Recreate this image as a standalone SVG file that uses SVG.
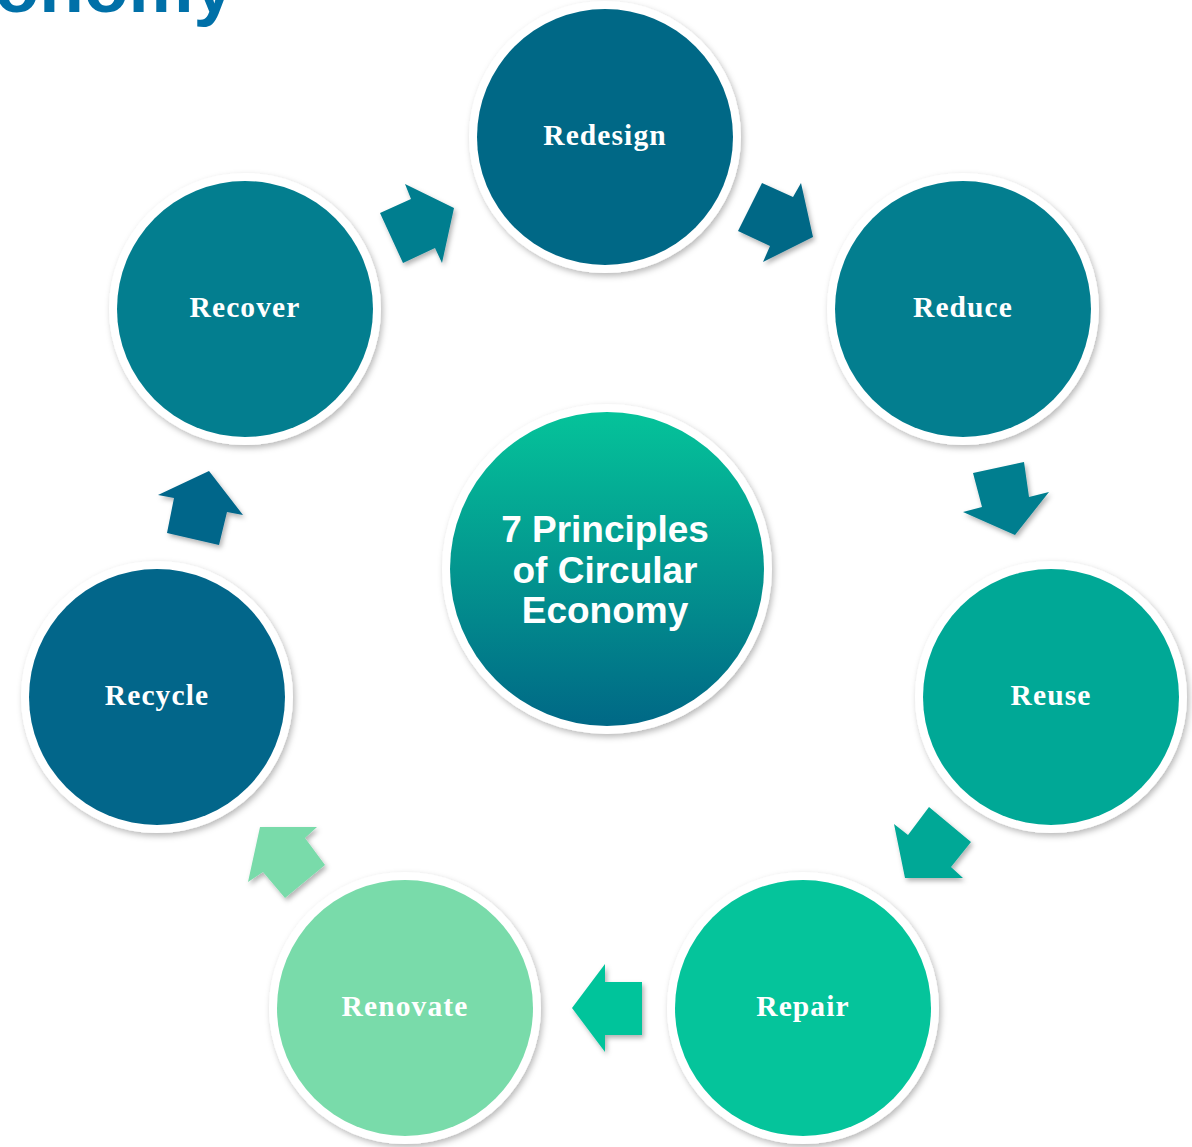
<svg xmlns="http://www.w3.org/2000/svg" width="1192" height="1147" viewBox="0 0 1192 1147">
  <defs>
    <filter id="soft" x="-20%" y="-20%" width="140%" height="140%">
      <feDropShadow dx="2" dy="3" stdDeviation="3" flood-color="#000" flood-opacity="0.28"/>
    </filter>
    <filter id="arrowShadow" x="-30%" y="-30%" width="160%" height="160%">
      <feDropShadow dx="2" dy="3" stdDeviation="2.5" flood-color="#000" flood-opacity="0.3"/>
    </filter>
    <linearGradient id="hubGrad" x1="0" y1="0" x2="0" y2="1">
      <stop offset="0" stop-color="#05C39A"/>
      <stop offset="0.5" stop-color="#03968F"/>
      <stop offset="1" stop-color="#006886"/>
    </linearGradient>
  </defs>
  <style>
    .ring { fill: #ffffff; filter: url(#soft); }
    .label { font-family: "Liberation Serif", "Times New Roman", serif; font-weight: bold; font-size: 29.5px; fill: #ffffff; text-anchor: middle; letter-spacing: 1.1px; }
    .hub { font-family: "Liberation Sans", Arial, sans-serif; font-weight: bold; font-size: 37px; fill: #ffffff; text-anchor: middle; }
    .title { font-family: "Liberation Sans", Arial, sans-serif; font-weight: bold; font-size: 73px; fill: #0070A8; text-anchor: end; }
    .arrow { filter: url(#arrowShadow); }
  </style>

  <rect width="1192" height="1147" fill="#ffffff"/>

  <!-- heading, clipped at the top edge -->
  <text class="title" x="234" y="12">onomy</text>

  <!-- block arrows between the principles -->
  <g id="connectors">
    <polygon class="arrow" fill="#037E8F" points="405,184 454,208 442,263 435,248 403,263 380,213 411,199"/>
    <polygon class="arrow" fill="#006886" points="762,183 793,197 801,183 813,237 763,262 770,246 738,231"/>
    <polygon class="arrow" fill="#037E8F" points="973,473 1024,462 1029,497 1049,492 1015,535 963,512 982,507"/>
    <polygon class="arrow" fill="#00A896" points="929,807 971,842 951,867 963,878 905,878 894,824 908,835"/>
    <polygon class="arrow" fill="#05C49B" points="605,964 605,982 642,982 642,1035 605,1035 605,1052 572,1008"/>
    <polygon class="arrow" fill="#79DBAA" points="260,827 317,827 305,838 325,865 285,898 263,872 248,882"/>
    <polygon class="arrow" fill="#02668A" points="158,495 209,471 243,515 227,512 219,545 167,533 174,498"/>
  </g>

  <g id="hub">
    <circle class="ring" cx="607" cy="569" r="165"/>
    <circle cx="607" cy="569" r="157" fill="url(#hubGrad)"/>
    <text class="hub" x="605" y="542">7 Principles</text>
    <text class="hub" x="605" y="583">of Circular</text>
    <text class="hub" x="605" y="623">Economy</text>
  </g>

  <g id="redesign">
    <circle class="ring" cx="605" cy="137" r="136"/>
    <circle cx="605" cy="137" r="128" fill="#006886"/>
    <text class="label" x="605" y="145">Redesign</text>
  </g>

  <g id="reduce">
    <circle class="ring" cx="963" cy="309" r="136"/>
    <circle cx="963" cy="309" r="128" fill="#037E8F"/>
    <text class="label" x="963" y="317">Reduce</text>
  </g>

  <g id="reuse">
    <circle class="ring" cx="1051" cy="697" r="136"/>
    <circle cx="1051" cy="697" r="128" fill="#00A896"/>
    <text class="label" x="1051" y="705">Reuse</text>
  </g>

  <g id="repair">
    <circle class="ring" cx="803" cy="1008" r="136"/>
    <circle cx="803" cy="1008" r="128" fill="#05C49B"/>
    <text class="label" x="803" y="1016">Repair</text>
  </g>

  <g id="renovate">
    <circle class="ring" cx="405" cy="1008" r="136"/>
    <circle cx="405" cy="1008" r="128" fill="#79DBAA"/>
    <text class="label" x="405" y="1016">Renovate</text>
  </g>

  <g id="recycle">
    <circle class="ring" cx="157" cy="697" r="136"/>
    <circle cx="157" cy="697" r="128" fill="#02668A"/>
    <text class="label" x="157" y="705">Recycle</text>
  </g>

  <g id="recover">
    <circle class="ring" cx="245" cy="309" r="136"/>
    <circle cx="245" cy="309" r="128" fill="#037E8F"/>
    <text class="label" x="245" y="317">Recover</text>
  </g>
</svg>
